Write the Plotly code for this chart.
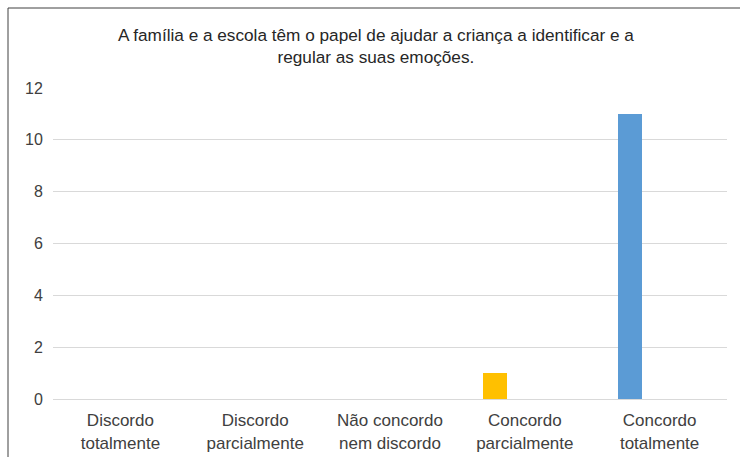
import plotly.graph_objects as go

categories = ["Discordo<br>totalmente", "Discordo<br>parcialmente", "Não concordo<br>nem discordo",
              "Concordo<br>parcialmente", "Concordo<br>totalmente"]
values = [0, 0, 0, 1, 11]
bar_colors = ["#5B9BD5", "#5B9BD5", "#5B9BD5", "#FFC000", "#5B9BD5"]
title_text = "A família e a escola têm o papel de ajudar a criança a identificar e a<br>regular as suas emoções."

fig = go.Figure(go.Bar(
    x=categories, y=values,
    marker=dict(color=bar_colors, line=dict(width=0)),
    width=0.178, offset=-0.31,
))

W, H = 740, 457
L, R, T, B = 53, 13, 88, 58
pw, ph = W - L - R, H - T - B

fig.update_layout(
    width=W, height=H,
    margin=dict(l=L, r=R, t=T, b=B, autoexpand=False),
    paper_bgcolor="white", plot_bgcolor="white",
    font=dict(family="Liberation Sans, Arial, sans-serif", color="#404040", size=16),
    title=dict(text=title_text, x=0.508, xanchor="center", xref="container",
               y=1 - 41 / H, yanchor="middle", yref="container",
               font=dict(size=17.2, color="#262626")),
    showlegend=False,
    bargap=0,
    xaxis=dict(showgrid=False, showline=False, ticks="outside", ticklen=6, automargin=False,
               tickcolor="rgba(0,0,0,0)", tickfont=dict(size=17, color="#404040")),
    yaxis=dict(range=[0, 12], dtick=2, showgrid=True, gridcolor="#D9D9D9", gridwidth=1,
               zeroline=True, zerolinecolor="#D9D9D9", zerolinewidth=1, automargin=False,
               showline=False, ticks="outside", ticklen=6, tickcolor="rgba(0,0,0,0)",
               tickfont=dict(size=16, color="#404040")),
    shapes=[dict(type="rect", xref="paper", yref="paper",
                 x0=(8 - L) / pw, x1=(W + 5 - L) / pw,
                 y0=-(B + 5) / ph, y1=1 + (T - 8) / ph,
                 line=dict(color="#404040", width=1), fillcolor="rgba(0,0,0,0)", layer="below")],
)

fig.write_html("out.html", config={"displayModeBar": False},
               post_script="document.body.style.margin='0';")
